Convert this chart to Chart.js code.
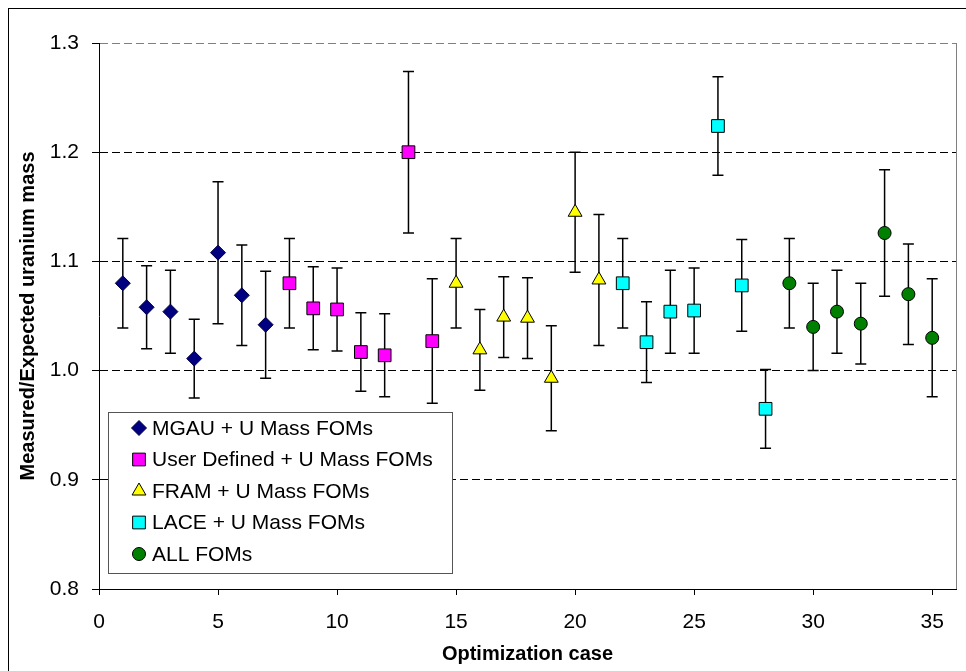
<!DOCTYPE html>
<html>
<head>
<meta charset="utf-8">
<script src="https://cdn.jsdelivr.net/npm/chart.js@4.4.1/dist/chart.umd.min.js"></script>
<style>
  html, body { margin: 0; padding: 0; background: #fff; overflow: hidden; }
  #frame { position: absolute; left: 8px; top: 8px; width: 2000px; height: 2000px; border: 1px solid #000; }
  #wrap { position: absolute; left: 0; top: 0; width: 966px; height: 671px; }
</style>
</head>
<body>
<div id="frame"></div>
<div id="wrap"><canvas id="c" width="966" height="671"></canvas></div>
<script>
// ============================================================
// DATA  (measured / expected U mass, +/- error, per optimization case)
// ============================================================
const mgauCase = [1, 2, 3, 4, 5, 6, 7];
const mgauVal  = [1.080, 1.058, 1.054, 1.011, 1.108, 1.069, 1.042];
const mgauErr  = [0.041, 0.038, 0.038, 0.036, 0.065, 0.046, 0.049];

const userCase = [8, 9, 10, 11, 12, 13, 14];
const userVal  = [1.080, 1.057, 1.056, 1.017, 1.014, 1.200, 1.027];
const userErr  = [0.041, 0.038, 0.038, 0.036, 0.038, 0.074, 0.057];

const framCase = [15, 16, 17, 18, 19, 20, 21];
const framVal  = [1.080, 1.019, 1.049, 1.048, 0.993, 1.145, 1.083];
const framErr  = [0.041, 0.037, 0.037, 0.037, 0.048, 0.055, 0.060];

const laceCase = [22, 23, 24, 25, 26, 27, 28];
const laceVal  = [1.080, 1.026, 1.054, 1.055, 1.224, 1.078, 0.965];
const laceErr  = [0.041, 0.037, 0.038, 0.039, 0.045, 0.042, 0.036];

const allCase  = [29, 30, 31, 32, 33, 34, 35];
const allVal   = [1.080, 1.040, 1.054, 1.043, 1.126, 1.070, 1.030];
const allErr   = [0.041, 0.040, 0.038, 0.037, 0.058, 0.046, 0.054];

const seriesLabels = ['MGAU + U Mass FOMs', 'User Defined + U Mass FOMs', 'FRAM + U Mass FOMs', 'LACE + U Mass FOMs', 'ALL FOMs'];
const xTickValues = [0, 5, 10, 15, 20, 25, 30, 35];
const yTickValues = [0.8, 0.9, 1.0, 1.1, 1.2, 1.3];

const FONT = '"Liberation Sans", Arial, sans-serif';
Chart.defaults.font.family = FONT;
Chart.defaults.color = '#000';

function pts(xs, ys) { return xs.map((x, i) => ({ x: x, y: ys[i] })); }

function mkSeries(label, xs, ys, errs, style, radius, fill, edge) {
  return {
    label: label, data: pts(xs, ys), errors: errs,
    showLine: false, pointStyle: style, pointRadius: radius, pointHoverRadius: radius,
    backgroundColor: fill, borderColor: edge, borderWidth: 1,
  };
}

// ============================================================
// PLUGINS
// ============================================================
// vertical error bars behind the markers
const errorBarPlugin = {
  id: 'errorBars',
  beforeDatasetsDraw(chart) {
    const { ctx, scales: { x, y } } = chart;
    ctx.save();
    ctx.strokeStyle = '#000';
    ctx.lineWidth = 1.5;
    chart.data.datasets.forEach(ds => {
      ds.data.forEach((p, i) => {
        const e = ds.errors[i];
        const px = x.getPixelForValue(p.x);
        const yt = y.getPixelForValue(p.y + e);
        const yb = y.getPixelForValue(p.y - e);
        ctx.beginPath();
        ctx.moveTo(px, yt); ctx.lineTo(px, yb);
        ctx.moveTo(px - 5.5, yt); ctx.lineTo(px + 5.5, yt);
        ctx.moveTo(px - 5.5, yb); ctx.lineTo(px + 5.5, yb);
        ctx.stroke();
      });
    });
    ctx.restore();
  }
};

// gray right edge of the plot area
const plotEdgePlugin = {
  id: 'plotEdge',
  beforeDatasetsDraw(chart) {
    const { ctx, chartArea: { top, bottom, right } } = chart;
    ctx.save();
    ctx.strokeStyle = '#808080';
    ctx.lineWidth = 1;
    ctx.beginPath();
    ctx.moveTo(right + 0.5, top); ctx.lineTo(right + 0.5, bottom);
    ctx.stroke();
    ctx.restore();
  }
};

// boxed legend inside the plot, lower left
const boxLegendPlugin = {
  id: 'boxLegend',
  afterDatasetsDraw(chart, args, opts) {
    const { ctx, chartArea } = chart;
    const x0 = chartArea.left + opts.dx, y0 = chartArea.top + opts.dy;
    ctx.save();
    ctx.fillStyle = '#fff';
    ctx.fillRect(x0, y0, opts.w, opts.h);
    ctx.strokeStyle = '#555';
    ctx.lineWidth = 1;
    ctx.strokeRect(x0 + 0.5, y0 + 0.5, opts.w, opts.h);
    ctx.font = '21px ' + FONT;
    ctx.textBaseline = 'middle';
    chart.data.datasets.forEach((ds, i) => {
      const cy = y0 + 16 + i * opts.rowH;
      ctx.fillStyle = ds.backgroundColor;
      ctx.strokeStyle = ds.borderColor;
      ctx.lineWidth = ds.borderWidth;
      Chart.helpers.drawPoint(ctx, { pointStyle: ds.pointStyle, radius: ds.pointRadius, borderWidth: ds.borderWidth, rotation: 0 }, x0 + 31, cy);
      ctx.fillStyle = '#000';
      ctx.fillText(ds.label, x0 + 44, cy + 1);
    });
    ctx.restore();
  }
};

// ============================================================
// CHART
// ============================================================
const ctx = document.getElementById('c').getContext('2d');
new Chart(ctx, {
  type: 'scatter',
  data: {
    datasets: [
      mkSeries(seriesLabels[0], mgauCase, mgauVal, mgauErr, 'rectRot', 7.5, '#000080', '#000040'),
      mkSeries(seriesLabels[1], userCase, userVal, userErr, 'rect', 9, '#ff00ff', '#000'),
      mkSeries(seriesLabels[2], framCase, framVal, framErr, 'triangle', 8, '#ffff00', '#000'),
      mkSeries(seriesLabels[3], laceCase, laceVal, laceErr, 'rect', 9, '#00ffff', '#000'),
      mkSeries(seriesLabels[4], allCase, allVal, allErr, 'circle', 6.5, '#008000', '#000'),
    ]
  },
  plugins: [errorBarPlugin, plotEdgePlugin, boxLegendPlugin],
  options: {
    responsive: false, animation: false,
    layout: { padding: { left: 0, top: 43, right: 4, bottom: 0 } },
    plugins: {
      legend: { display: false },
      tooltip: { enabled: false },
      boxLegend: { dx: 9, dy: 369, w: 344, h: 161, rowH: 31.5 },
    },
    scales: {
      x: {
        type: 'linear', min: 0, max: 36,
        afterBuildTicks: s => { s.ticks = xTickValues.map(v => ({ value: v })); },
        afterFit: s => { s.height = 82; },
        ticks: { font: { size: 21 }, padding: 15, color: '#000', maxRotation: 0 },
        grid: { drawOnChartArea: false, drawTicks: true, tickLength: 6, color: '#000', tickColor: '#000' },
        border: { color: '#000', width: 1 },
        title: { display: true, text: 'Optimization case', font: { size: 20, weight: 'bold' }, color: '#000', padding: { top: 0, bottom: 5 } },
      },
      y: {
        type: 'linear', min: 0.8, max: 1.3,
        afterBuildTicks: s => { s.ticks = yTickValues.map(v => ({ value: v })); },
        afterFit: s => { s.width = 99; },
        ticks: { font: { size: 21 }, padding: 13, color: '#000', callback: v => v.toFixed(1) },
        grid: {
          tickLength: 7, lineWidth: 1,
          color: c => c.tick && Math.abs(c.tick.value - 1.3) < 1e-6 ? '#808080'
                    : (c.tick && Math.abs(c.tick.value - 0.8) < 1e-6 ? 'rgba(0,0,0,0)' : '#000'),
          tickColor: '#000', tickBorderDash: [],
        },
        border: { color: '#000', width: 1, dash: [8, 4] },
        title: { display: true, text: 'Measured/Expected uranium mass', font: { size: 20, weight: 'bold' }, color: '#000', padding: { top: 16, bottom: 0 } },
      }
    }
  }
});
</script>
</body>
</html>
